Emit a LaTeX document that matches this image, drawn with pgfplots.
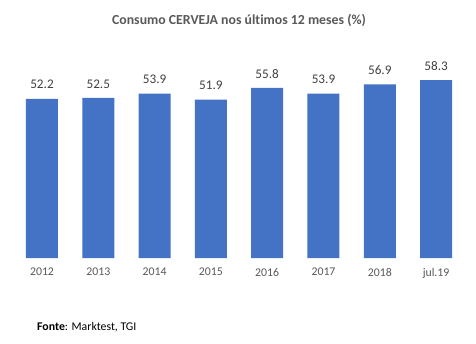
\documentclass[border=0pt]{standalone}
\usepackage{pgfplots}
\pgfplotsset{compat=1.18}
\usepackage{fontspec}
\setmainfont{Carlito}[Ligatures=CommonOff]
\definecolor{barblue}{HTML}{4472C4}
\definecolor{titlegray}{HTML}{595959}
\definecolor{labgray}{HTML}{404040}
\begin{document}
\begin{tikzpicture}[x=1pt,y=1pt]
\path[fill=white] (0,0) rectangle (476,343);
\begin{axis}[
  at={(13.85pt,85pt)}, anchor=south west,
  scale only axis, width=450.4pt, height=213.5pt,
  xmin=-0.5, xmax=7.5, ymin=0, ymax=70,
  axis line style={draw=none},
  major tick length=0pt,
  ytick=\empty,
  xtick={0,...,7},
  xticklabels={2012,2013,2014,2015,2016,2017,2018,jul.19},
  xticklabel style={inner sep=0pt, anchor=north, yshift=-10pt, font=\fontsize{11.8}{13}\selectfont, text=titlegray},
  /pgf/number format/assume math mode=true,
  clip=false,
  ybar, bar width=32pt,
  nodes near coords={\pgfmathprintnumber[fixed,fixed zerofill,precision=1]{\pgfplotspointmeta}},
  nodes near coords style={inner sep=0pt, anchor=south, yshift=9.5pt, font=\fontsize{13.2}{15}\selectfont, text=labgray},
]
\addplot[fill=barblue, draw=none] coordinates {(0,52.2) (1,52.5) (2,53.9) (3,51.9) (4,55.8) (5,53.9) (6,56.9) (7,58.3)};
\end{axis}
\node[text=titlegray, font=\bfseries\fontsize{13.8}{16}\selectfont, inner sep=0pt] at (239,322.5) {Consumo CERVEJA nos últimos 12 meses (\%)};
\node[anchor=west, inner sep=0pt, font=\fontsize{11.8}{13}\selectfont, text=black] at (37,16) {\textbf{Fonte}: Marktest, TGI};
\end{tikzpicture}
\end{document}
